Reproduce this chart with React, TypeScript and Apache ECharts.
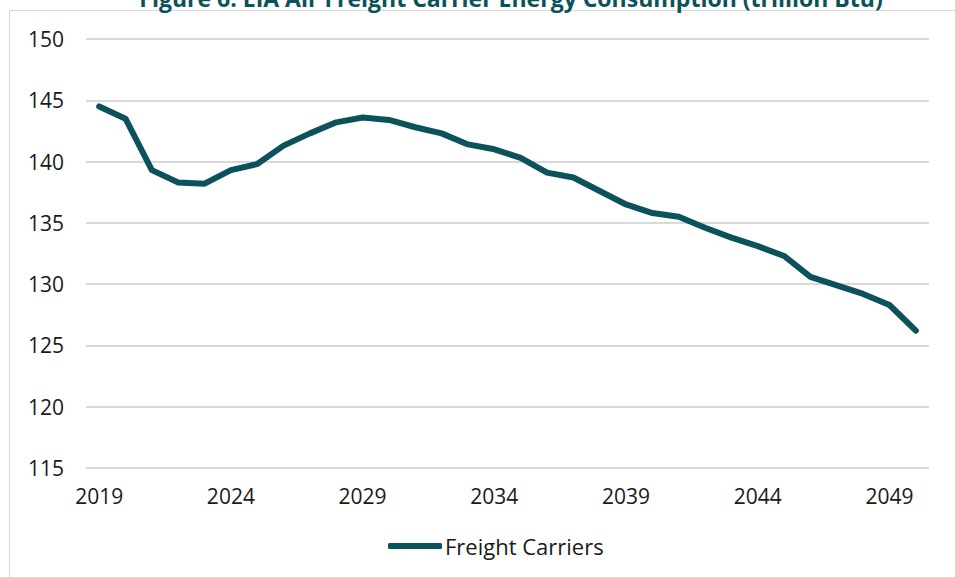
import React, { useEffect, useRef } from "react";
import * as echarts from "echarts";

const years: string[] = [
  "2019","2020","2021","2022","2023","2024","2025","2026","2027","2028",
  "2029","2030","2031","2032","2033","2034","2035","2036","2037","2038",
  "2039","2040","2041","2042","2043","2044","2045","2046","2047","2048",
  "2049","2050",
];
const freightCarriers: number[] = [
  144.5, 143.5, 139.3, 138.3, 138.2, 139.3, 139.8, 141.3, 142.3, 143.2,
  143.6, 143.4, 142.8, 142.3, 141.4, 141.0, 140.3, 139.1, 138.7, 137.6,
  136.5, 135.8, 135.5, 134.6, 133.8, 133.1, 132.3, 130.6, 129.9, 129.2,
  128.3, 126.2,
];
const seriesName = "Freight Carriers";
const titleText = "Figure 6: EIA Air Freight Carrier Energy Consumption (trillion Btu)";

const FONT = "'Open Sans', 'Noto Sans', sans-serif";
const TEAL = "#0b525a";

export default function App() {
  const ref = useRef<HTMLDivElement>(null);
  useEffect(() => {
    if (!ref.current) return;
    const chart = echarts.init(ref.current, undefined, { renderer: "svg" });
    chart.setOption({
      animation: false,
      backgroundColor: "#ffffff",
      graphic: [
        {
          type: "rect",
          shape: { x: 9.5, y: 10.5, width: 1000, height: 1000 },
          style: { fill: "none", stroke: "#d9d9d9", lineWidth: 1 },
          silent: true,
          z: -1,
        },
        {
          type: "text",
          x: 511,
          y: 9,
          style: {
            text: titleText,
            fill: TEAL,
            font: `bold 23px ${FONT}`,
            textAlign: "center",
            textVerticalAlign: "bottom",
          },
        },
      ],
      grid: { left: 86, right: 26, top: 39, bottom: 109, containLabel: false },
      xAxis: {
        type: "category",
        data: years,
        boundaryGap: true,
        axisLine: { show: false },
        axisTick: { show: false },
        axisLabel: {
          interval: 4,
          margin: 17,
          fontSize: 21,
          fontFamily: FONT,
          color: "#1a1a1a",
        },
        splitLine: { show: false },
      },
      yAxis: {
        type: "value",
        min: 115,
        max: 150,
        interval: 5,
        axisLine: { show: false },
        axisTick: { show: false },
        axisLabel: {
          margin: 22,
          fontSize: 21,
          fontFamily: FONT,
          color: "#1a1a1a",
        },
        splitLine: { lineStyle: { color: "#d9d9d9", width: 2 } },
      },
      legend: {
        bottom: 15,
        left: 383,
        icon: "roundRect",
        itemWidth: 54,
        itemHeight: 6,
        itemGap: 10,
        itemStyle: { color: TEAL },
        textStyle: { fontSize: 22, fontFamily: FONT, color: "#1a1a1a", padding: [0, 0, 0, -2] },
        data: [seriesName],
      },
      series: [
        {
          name: seriesName,
          type: "line",
          data: freightCarriers,
          symbol: "none",
          smooth: false,
          lineStyle: { color: TEAL, width: 6, cap: "round", join: "round" },
          itemStyle: { color: TEAL },
        },
      ],
    });
    return () => chart.dispose();
  }, []);
  return (
    <div
      ref={ref}
      style={{ position: "absolute", left: 0, top: 0, width: 955, height: 577 }}
    />
  );
}
